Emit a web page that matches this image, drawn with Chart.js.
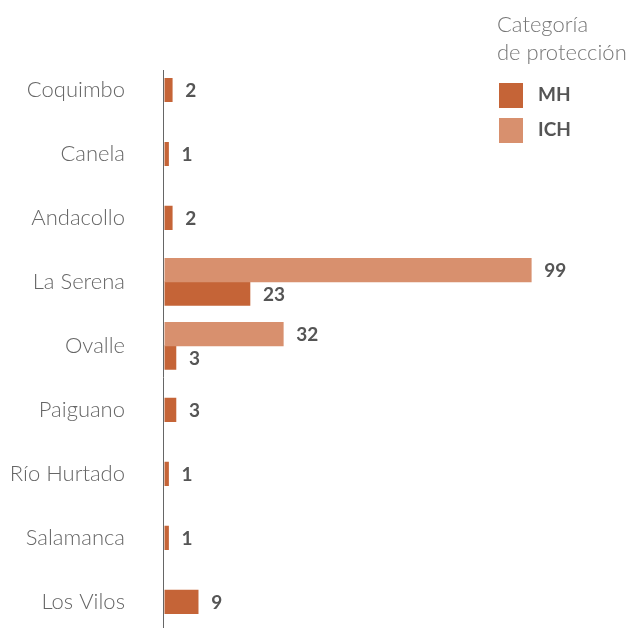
<!DOCTYPE html>
<html>
<head>
<meta charset="utf-8">
<script src="https://cdn.jsdelivr.net/npm/chart.js@4.4.1/dist/chart.umd.min.js"></script>
<style>
  html, body { margin: 0; padding: 0; background: #fff; overflow: hidden; }
  #wrap { position: relative; width: 631px; height: 685px; }
  #legend { position: absolute; left: 497px; top: 10px; font-family: Lato, sans-serif; }
  #legend .title { font-size: 22px; font-weight: 300; color: #777; line-height: 28px; }
  #legend .item { position: absolute; left: 2px; width: 24px; height: 25px; }
  #legend .lbl { position: absolute; left: 41px; font-size: 19px; font-weight: 700; color: #555; line-height: 25px; }
</style>
</head>
<body>
<div id="wrap">
  <canvas id="chart"></canvas>
  <div id="legend">
    <div class="title">Categoría<br>de protección</div>
    <div class="item" style="top:73px;background:#c56437"></div>
    <div class="lbl" style="top:71px">MH</div>
    <div class="item" style="top:108px;background:#d8906e"></div>
    <div class="lbl" style="top:106px">ICH</div>
  </div>
</div>
<script>
// comunas y cantidad de inmuebles por categoría
const comunas = ["Coquimbo", "Canela", "Andacollo", "La Serena", "Ovalle", "Paiguano", "Río Hurtado", "Salamanca", "Los Vilos"];
const valoresICH = [null, null, null, 99, 32, null, null, null, null];
const valoresMH = [2, 1, 2, 23, 3, 3, 1, 1, 9];

const colorMH = "#c56437";
const colorICH = "#d8906e";

// etiquetas de valor al final de cada barra
const valueLabels = {
    id: "valueLabels",
    afterDatasetsDraw(chart) {
        const ctx = chart.ctx;
        ctx.save();
        ctx.font = "700 19px Lato, sans-serif";
        ctx.fillStyle = "#555";
        ctx.textAlign = "left";
        ctx.textBaseline = "middle";
        chart.data.datasets.forEach((ds, i) => {
            const meta = chart.getDatasetMeta(i);
            meta.data.forEach((bar, j) => {
                const v = ds.data[j];
                if (v === null) return;
                ctx.fillText(v, bar.x + 13, bar.y + 1);
            });
        });
        ctx.restore();
    }
};

// línea vertical del eje
const axisLine = {
    id: "axisLine",
    beforeDatasetsDraw(chart) {
        const ctx = chart.ctx;
        const x = chart.chartArea.left + 0.5;
        ctx.save();
        ctx.strokeStyle = "#666";
        ctx.lineWidth = 1;
        ctx.beginPath();
        ctx.moveTo(x, 70);
        ctx.lineTo(x, chart.height);
        ctx.stroke();
        ctx.restore();
    }
};

new Chart(document.getElementById("chart"), {
    type: "bar",
    data: {
        labels: comunas,
        datasets: [
            { label: "ICH", data: valoresICH, backgroundColor: colorICH, barThickness: 23.5 },
            { label: "MH", data: valoresMH, backgroundColor: colorMH, barThickness: 23.5 }
        ]
    },
    options: {
        indexAxis: "y",
        responsive: true,
        maintainAspectRatio: false,
        animation: false,
        skipNull: true,
        layout: { padding: { top: 58, bottom: 6, left: 0, right: 22 } },
        plugins: {
            legend: { display: false },
            tooltip: { enabled: false }
        },
        scales: {
            x: {
                display: false,
                min: -0.5,
                max: 120
            },
            y: {
                grid: { display: false, drawTicks: false },
                border: { display: false },
                ticks: {
                    color: "#666",
                    padding: 38,
                    font: { family: "Lato, sans-serif", size: 22, weight: 300 }
                },
                afterFit(scale) { scale.width = 163; }
            }
        }
    },
    plugins: [axisLine, valueLabels]
});
</script>
</body>
</html>
